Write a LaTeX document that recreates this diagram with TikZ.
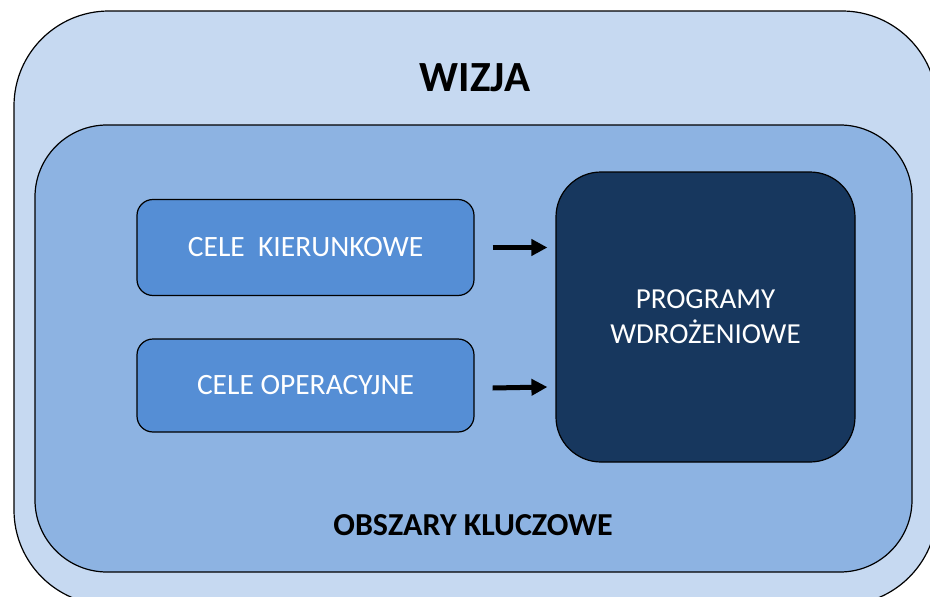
\documentclass[tikz,border=0pt]{standalone}
\usepackage{fontspec}
\setmainfont{Carlito}
\usetikzlibrary{arrows.meta}
\definecolor{wizjablue}{HTML}{C6D9F1}
\definecolor{obszarblue}{HTML}{8DB3E2}
\definecolor{celeblue}{HTML}{558ED5}
\definecolor{progblue}{HTML}{17375E}

\begin{document}
\begin{tikzpicture}[x=1pt,y=-1pt]
        \tikzstyle{every node}=[rectangle, draw=black, line width=1.2pt, inner sep=0pt]
        \tikzstyle{cel}=[fill=celeblue, rounded corners=16pt, minimum width=337pt, minimum height=96pt, text=white, font=\fontsize{29.5}{36}\selectfont]
        \tikzstyle{caption}=[draw=none, font=\bfseries]
        \tikzstyle{arrow}=[line width=5pt, -{Triangle[length=16pt,width=16pt]}]
        \useasboundingbox (0,0) rectangle (930,597);
        \clip (0,0) rectangle (930,597);
        \node[fill=wizjablue, rounded corners=95pt, minimum width=923pt, minimum height=594pt] (wizja) at (475.5,308) {};
        \node[fill=obszarblue, rounded corners=72pt, minimum width=877pt, minimum height=447pt] (obszary) at (473.5,348.5) {};
        \node[caption, font=\fontsize{43}{48}\selectfont\bfseries] (wizjatxt) at (475,78) {WIZJA};
        \node[caption, font=\fontsize{32}{36}\selectfont\bfseries] (obszarytxt) at (473,525) {OBSZARY KLUCZOWE};
        \node[cel] (kier) at (305.5,247.5) {CELE\ \ KIERUNKOWE};
        \node[cel, minimum height=93pt] (oper) at (305.5,385.5) {CELE OPERACYJNE};
        \node[fill=progblue, rounded corners=45pt, minimum width=299pt, minimum height=290pt, text=white, align=center, font=\fontsize{29}{35}\selectfont] (prog) at (705.5,317) {PROGRAMY\\WDROŻENIOWE};
        \draw[arrow] ([xshift=18pt]kier.east) -- ([xshift=-8pt]kier.east -| prog.west);
        \draw[arrow] ([xshift=18pt,yshift=-2.5pt]oper.east) -- ([xshift=-8pt,yshift=-1.5pt]oper.east -| prog.west);
    \end{tikzpicture}
\end{document}
